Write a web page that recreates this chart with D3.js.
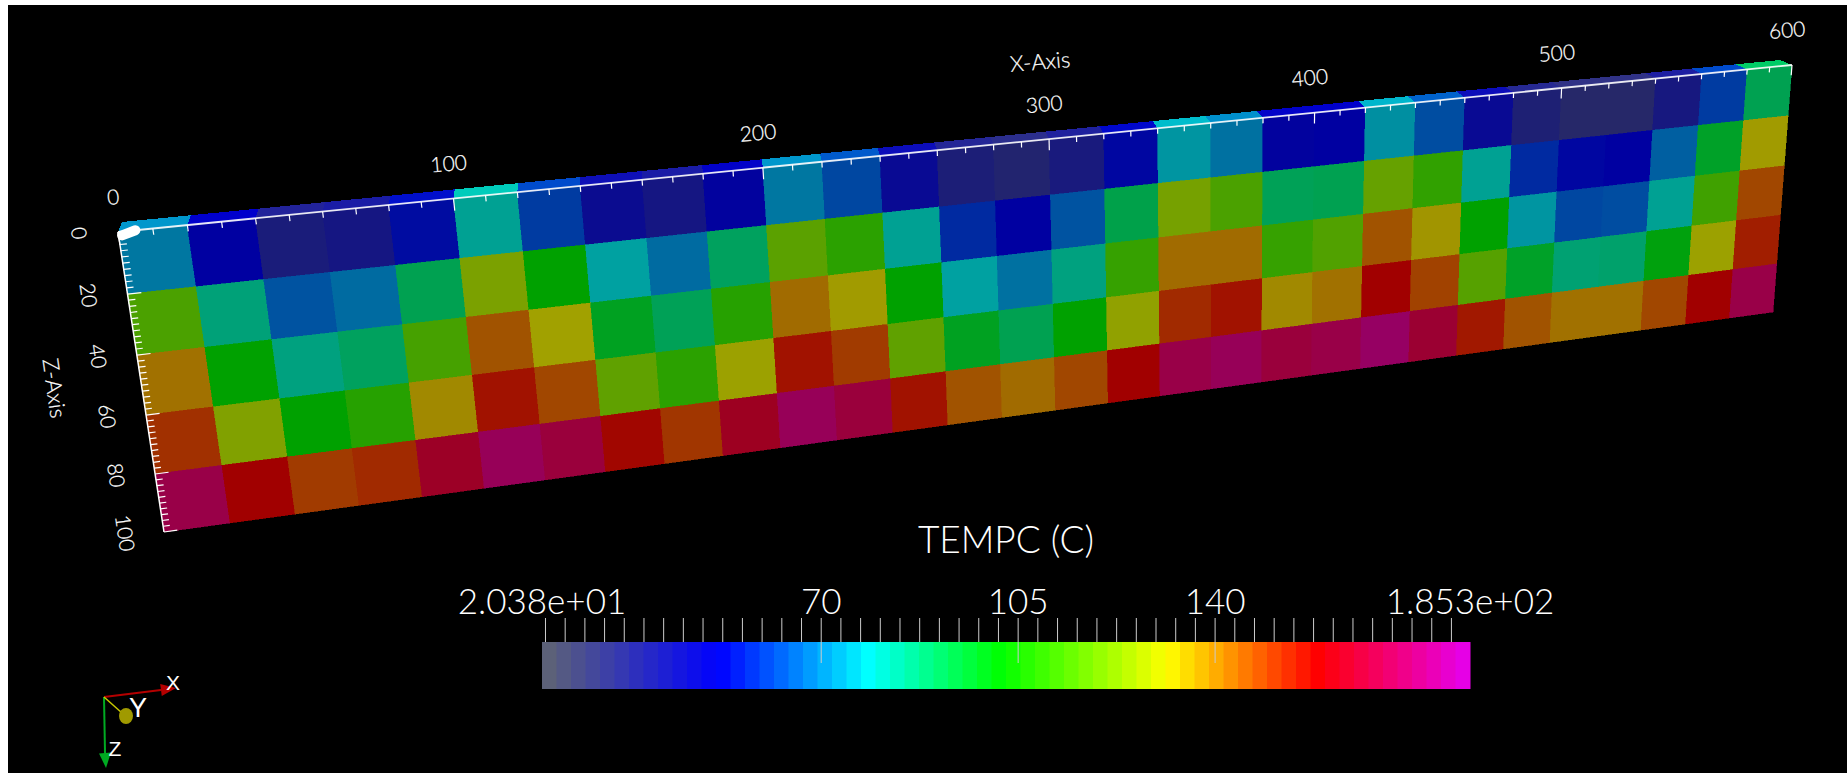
<!DOCTYPE html>
<html>
<head>
<meta charset="utf-8">
<title>TEMPC</title>
<style>
  html, body { margin: 0; padding: 0; background: #fff; overflow: hidden; }
  svg { display: block; }
  .tick-label { font-family: Lato, sans-serif; font-weight: 300; font-size: 21px; fill: #fff; stroke: #fff; stroke-width: 0.2; text-anchor: middle; dominant-baseline: central; }
  .bar-label { font-family: Lato, sans-serif; font-weight: 300; fill: #fff; text-anchor: middle; }
  .triad-label { font-family: "Liberation Sans", sans-serif; fill: #fff; text-anchor: middle; dominant-baseline: central; }
</style>
</head>
<body>
<div id="chart-container"></div>
<script src="https://cdn.jsdelivr.net/npm/d3@7/dist/d3.min.js"></script>
<script>
const W = 1847, H = 773;

// TEMPC in each 20 x 20 cell, one array per z row, left to right along x
const row0 = [71, 51, 37, 40, 53, 80, 61, 45, 40, 50, 71, 63, 46, 36, 33, 38, 52, 76, 70, 50, 51, 75, 64, 46, 35, 31, 31, 39, 61, 90];
const row1 = [116, 84, 65, 69, 90, 125, 102, 78, 69, 88, 119, 110, 80, 58, 51, 65, 91, 124, 116, 89, 90, 121, 111, 80, 58, 52, 51, 67, 96, 133];
const row2 = [140, 102, 83, 88, 115, 145, 132, 97, 89, 109, 141, 133, 102, 78, 70, 83, 112, 141, 141, 112, 117, 145, 134, 102, 76, 63, 64, 80, 114, 147];
const row3 = [151, 126, 102, 109, 136, 156, 147, 120, 110, 131, 156, 149, 120, 97, 90, 102, 129, 152, 156, 136, 140, 159, 148, 118, 96, 85, 86, 100, 131, 154];
const row4 = [172, 159, 149, 152, 166, 175, 170, 158, 150, 165, 175, 170, 156, 145, 141, 147, 159, 172, 175, 170, 172, 177, 168, 155, 145, 140, 140, 147, 159, 172];
const rows = [row0, row1, row2, row3, row4];

const cellSize = 20;
const xExtent = [0, 600];
const zExtent = [0, 100];
const xLabels = [0, 100, 200, 300, 400, 500, 600];
const zLabels = [0, 20, 40, 60, 80, 100];

const tempRange = [20.38, 185.3];
const barLabels = [
  { v: 20.38, text: "2.038e+01" },
  { v: 70, text: "70" },
  { v: 105, text: "105" },
  { v: 140, text: "140" },
  { v: 185.3, text: "1.853e+02" }
];
const barMajor = [70, 105, 140];
const colorStops = [20.38, 51, 78, 102, 132, 159, 185.3];
const colorValues = ["#5c6178", "#0000ff", "#00ffff", "#00ff00", "#ffff00", "#ff0000", "#e600e6"];
const bandCount = 64;

// screen corners of the slab
const front = { tl: [118, 232], tr: [1792, 65], br: [1773, 312], bl: [164, 532] };
const bar = { x0: 542, x1: 1470, y0: 642, y1: 689 };

// unit square to quad mapping
function quadMap(q) {
  const [x0, y0] = q.tl, [x1, y1] = q.tr, [x2, y2] = q.br, [x3, y3] = q.bl;
  const dx1 = x1 - x2, dx2 = x3 - x2, sx = x0 - x1 + x2 - x3;
  const dy1 = y1 - y2, dy2 = y3 - y2, sy = y0 - y1 + y2 - y3;
  const den = dx1 * dy2 - dx2 * dy1;
  const g = (sx * dy2 - dx2 * sy) / den;
  const h = (dx1 * sy - sx * dy1) / den;
  const a = x1 - x0 + g * x1, b = x3 - x0 + h * x3;
  const d = y1 - y0 + g * y1, e = y3 - y0 + h * y3;
  return (u, v) => {
    const w = g * u + h * v + 1;
    return [(a * u + b * v + x0) / w, (d * u + e * v + y0) / w];
  };
}

const xU = d3.scaleLinear().domain(xExtent).range([0, 1]);
const zV = d3.scaleLinear().domain(zExtent).range([0, 1]);
const frontMap = quadMap(front);
const project = (x, z) => frontMap(xU(x), zV(z));

// how far the back edge of the top face sits from the front edge
const backDx = d3.scaleLinear().domain(xExtent).range([4, -12]);
const backDy = d3.scaleLinear().domain(xExtent).range([-10, -5]);
const projectBack = x => {
  const p = project(x, 0);
  return [p[0] + backDx(x), p[1] + backDy(x)];
};

const color = d3.scaleLinear().domain(colorStops).range(colorValues).interpolate(d3.interpolateRgb).clamp(true);
const shade = (v, k) => {
  const c = d3.rgb(color(v));
  return d3.rgb(c.r * k, c.g * k, c.b * k).formatHex();
};

const svg = d3.select("#chart-container").append("svg").attr("width", W).attr("height", H);

// white strip on the left and top, rest black
svg.append("rect").attr("width", W).attr("height", H).attr("fill", "#fff");
svg.append("rect").attr("x", 8).attr("y", 5).attr("width", W - 8).attr("height", H - 5).attr("fill", "#000");

const line = d3.line();

// top face sliver
svg.append("g").selectAll("polygon")
  .data(row0.map((v, i) => ({ v, i })))
  .join("polygon")
  .attr("points", d => {
    const x0 = d.i * cellSize, x1 = x0 + cellSize;
    return [project(x0, 0), project(x1, 0), projectBack(x1), projectBack(x0)].join(" ");
  })
  .attr("fill", d => shade(d.v, 0.8))
  .attr("shape-rendering", "crispEdges");

// front face cells
const cells = rows.flatMap((r, j) => r.map((v, i) => ({ v, i, j })));
svg.append("g").selectAll("polygon")
  .data(cells)
  .join("polygon")
  .attr("points", d => {
    const x0 = d.i * cellSize, x1 = x0 + cellSize, z0 = d.j * cellSize, z1 = z0 + cellSize;
    return [project(x0, z0), project(x1, z0), project(x1, z1), project(x0, z1)].join(" ");
  })
  .attr("fill", d => shade(d.v, 0.63))
  .attr("stroke", d => shade(d.v, 0.63))
  .attr("stroke-width", 0.6)
  .attr("shape-rendering", "crispEdges");

// x axis line and ticks, drawn into the face
const axes = svg.append("g").attr("fill", "none").attr("stroke", "#fff");
axes.append("path")
  .attr("d", line([project(0, 0), project(600, 0)]))
  .attr("stroke-width", 1.8).attr("stroke-opacity", 0.9);
axes.selectAll(".xt")
  .data(d3.range(0, 601, 10))
  .join("path").attr("class", "xt")
  .attr("d", d => line([project(d, 0), project(d, d % 100 === 0 ? 4 : 2)]))
  .attr("stroke-width", 1.2);

// z axis line and ticks
axes.append("path")
  .attr("d", line([project(0, 0), project(0, 100)]))
  .attr("stroke-width", 1.5);
axes.selectAll(".zt")
  .data(d3.range(0, 101, 2))
  .join("path").attr("class", "zt")
  .attr("d", d => line([project(0, d), project(d % 20 === 0 ? 4 : 2, d)]))
  .attr("stroke-width", 1.2);

// blob at the origin where the ticks pile up
axes.append("path")
  .attr("d", line([project(1, 1.2), project(5, 0)]))
  .attr("stroke-width", 10).attr("stroke-linecap", "round");

// axis text
const labels = svg.append("g");
labels.selectAll(".xl")
  .data(xLabels)
  .join("text").attr("class", "tick-label xl")
  .attr("transform", d => {
    const p = project(d, 0);
    return `translate(${p[0] - 5},${p[1] - 36}) rotate(-5)`;
  })
  .text(d => d);
labels.append("text").attr("class", "tick-label")
  .attr("transform", "translate(1040,61) rotate(-5)")
  .style("font-size", "22px")
  .text("X-Axis");
labels.selectAll(".zl")
  .data(zLabels)
  .join("text").attr("class", "tick-label zl")
  .attr("transform", d => {
    const p = project(0, d);
    return `translate(${p[0] - 38},${p[1] + 1}) rotate(82)`;
  })
  .text(d => d);
labels.append("text").attr("class", "tick-label")
  .attr("transform", "translate(55,388) rotate(82)")
  .style("font-size", "22px")
  .text("Z-Axis");

// colour bar
const barX = d3.scaleLinear().domain(tempRange).range([bar.x0, bar.x1]);
const bandW = (bar.x1 - bar.x0) / bandCount;
const bandVal = d3.scaleLinear().domain([0, bandCount - 1]).range(tempRange);
svg.append("g").selectAll("rect")
  .data(d3.range(bandCount))
  .join("rect")
  .attr("x", i => bar.x0 + i * bandW)
  .attr("y", bar.y0)
  .attr("width", bandW + 0.5)
  .attr("height", bar.y1 - bar.y0)
  .attr("fill", i => color(bandVal(i)));

const barTicks = svg.append("g").attr("stroke", "#ccc").attr("stroke-width", 1);
barTicks.selectAll("line")
  .data(d3.range(21, 182.1, 3.5))
  .join("line")
  .attr("x1", d => barX(d)).attr("x2", d => barX(d))
  .attr("y1", 618)
  .attr("y2", d => barMajor.includes(d) ? 663 : 642);

svg.append("g").selectAll("text")
  .data(barLabels)
  .join("text").attr("class", "bar-label")
  .attr("x", d => barX(d.v))
  .attr("y", 614)
  .attr("font-size", 35)
  .text(d => d.text);
svg.append("text").attr("class", "bar-label")
  .attr("x", 1006).attr("y", 553)
  .attr("font-size", 37)
  .text("TEMPC (C)");

// orientation triad
const triad = svg.append("g");
const o = [104, 697];
const arrow = (tip, base, w, col) => {
  const dx = tip[0] - base[0], dy = tip[1] - base[1], n = Math.hypot(dx, dy);
  const nx = -dy / n * w / 2, ny = dx / n * w / 2;
  triad.append("path").attr("d", line([o, base])).attr("stroke", col).attr("stroke-width", 2).attr("fill", "none");
  triad.append("polygon")
    .attr("points", [[base[0] + nx, base[1] + ny], tip, [base[0] - nx, base[1] - ny]].join(" "))
    .attr("fill", col);
};
arrow([176, 688], [161, 690], 12, "#b40000");
arrow([106, 768], [105, 753], 12, "#00aa22");
triad.append("path").attr("d", line([o, [122, 713]])).attr("stroke", "#c8c800").attr("stroke-width", 1.5).attr("fill", "none");
triad.append("ellipse").attr("cx", 126).attr("cy", 716).attr("rx", 7).attr("ry", 8).attr("fill", "#a09a00");
[["X", 173, 682, 21], ["Y", 138, 708, 27], ["Z", 115, 748, 21]].forEach(([t, x, y, s]) => {
  triad.append("text").attr("class", "triad-label").attr("x", x).attr("y", y).attr("font-size", s).text(t);
});
</script>
</body>
</html>
